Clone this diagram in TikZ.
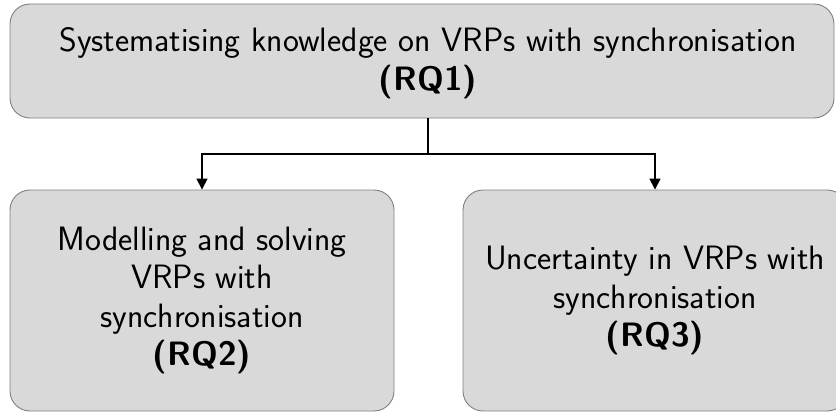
\documentclass[tikz,border=0pt]{standalone}
\usepackage{fontspec}
\usetikzlibrary{arrows.meta}
\definecolor{boxfill}{HTML}{D9D9D9}
\definecolor{boxline}{HTML}{7F7F7F}
\begin{document}
\begin{tikzpicture}[x=1pt,y=-1pt,
  rqtext/.style={align=center, font=\sffamily\fontsize{33.8}{38.5}\selectfont},
  rqbox/.style={rqtext, draw=boxline, line width=0.9pt, fill=boxfill, rounded corners=20pt,
    inner sep=0pt},
  link/.style={line width=1.6pt, black},
  linkarrow/.style={link, -{Triangle[length=11pt,width=11pt]}}]
  \useasboundingbox (0,0) rectangle (836,412);
  \clip (0,0) rectangle (836,412);
  % research questions
  \node[rqbox, minimum width=824pt, minimum height=114pt] (rq1) at (422,61) {};
  \node[rqtext] (rq1t) at (428,63)
    {Systematising knowledge on VRPs with synchronisation\\\textbf{(RQ1)}};
  \node[rqbox, minimum width=384pt, minimum height=221pt] (rq2) at (202,300.5)
    {Modelling and solving\\VRPs with\\synchronisation\\\textbf{(RQ2)}};
  \node[rqbox, minimum width=384pt, minimum height=221pt] (rq3) at (655,300.5)
    {Uncertainty in VRPs with\\synchronisation\\\textbf{(RQ3)}};
  % branching connector
  \coordinate (split) at (428,154);
  \draw[link] (rq1.south -| split) -- (split);
  \draw[linkarrow] (split) -| (rq2.north);
  \draw[linkarrow] (split) -| (rq3.north);
\end{tikzpicture}
\end{document}
